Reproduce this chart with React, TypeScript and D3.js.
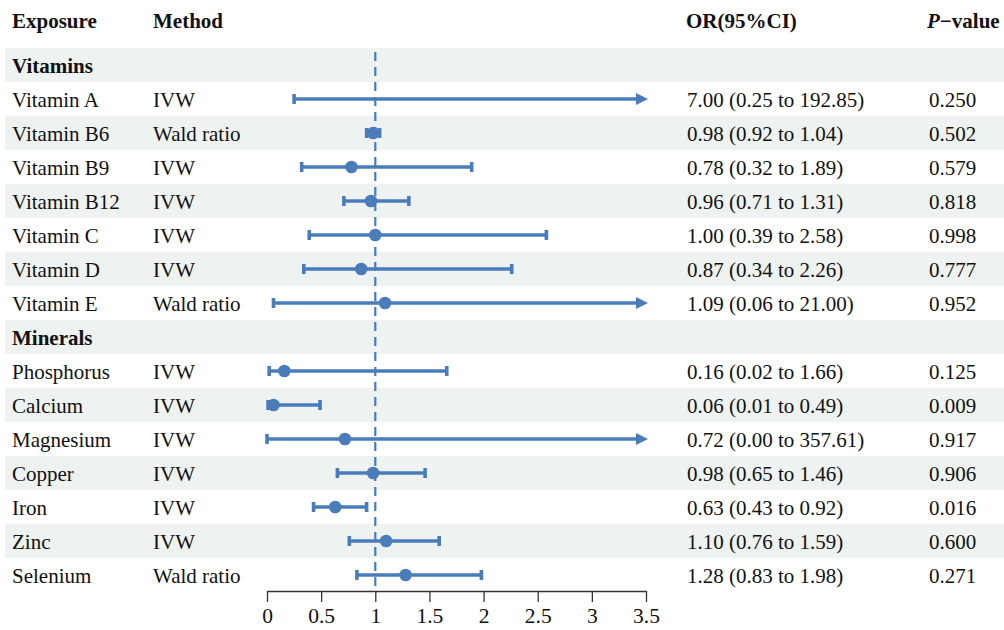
import React from "react";
import * as d3 from "d3";

const groups = ["Vitamins", "Minerals"];

const vitaminNames = ["Vitamin A", "Vitamin B6", "Vitamin B9", "Vitamin B12", "Vitamin C", "Vitamin D", "Vitamin E"];
const vitaminMethods = ["IVW", "Wald ratio", "IVW", "IVW", "IVW", "IVW", "Wald ratio"];
const vitaminOR = [7.0, 0.98, 0.78, 0.96, 1.0, 0.87, 1.09];
const vitaminLower = [0.25, 0.92, 0.32, 0.71, 0.39, 0.34, 0.06];
const vitaminUpper = [192.85, 1.04, 1.89, 1.31, 2.58, 2.26, 21.0];
const vitaminP = ["0.250", "0.502", "0.579", "0.818", "0.998", "0.777", "0.952"];

const mineralNames = ["Phosphorus", "Calcium", "Magnesium", "Copper", "Iron", "Zinc", "Selenium"];
const mineralMethods = ["IVW", "IVW", "IVW", "IVW", "IVW", "IVW", "Wald ratio"];
const mineralOR = [0.16, 0.06, 0.72, 0.98, 0.63, 1.1, 1.28];
const mineralLower = [0.02, 0.01, 0.0, 0.65, 0.43, 0.76, 0.83];
const mineralUpper = [1.66, 0.49, 357.61, 1.46, 0.92, 1.59, 1.98];
const mineralP = ["0.125", "0.009", "0.917", "0.906", "0.016", "0.600", "0.271"];

const xTicks = [0, 0.5, 1, 1.5, 2, 2.5, 3, 3.5];

type Row = {
  header: boolean;
  name: string;
  method?: string;
  or?: number;
  lo?: number;
  hi?: number;
  p?: string;
};

function buildRows(): Row[] {
  const rows: Row[] = [];
  const sets = [
    [vitaminNames, vitaminMethods, vitaminOR, vitaminLower, vitaminUpper, vitaminP],
    [mineralNames, mineralMethods, mineralOR, mineralLower, mineralUpper, mineralP],
  ] as const;
  groups.forEach((g, gi) => {
    rows.push({ header: true, name: g });
    const [names, methods, ors, los, his, ps] = sets[gi] as any;
    names.forEach((n: string, i: number) => {
      rows.push({ header: false, name: n, method: methods[i], or: ors[i], lo: los[i], hi: his[i], p: ps[i] });
    });
  });
  return rows;
}

const W = 1004;
const H = 630;
const FONT = "'Liberation Serif', 'Times New Roman', serif";
const BLUE = "#4A7CBA";
const BAND = "#EEF2F1";

function Axis({ x, y }: { x: d3.ScaleLinear<number, number>; y: number }) {
  const ref = React.useRef<SVGGElement>(null);
  React.useEffect(() => {
    if (!ref.current) return;
    const g = d3.select(ref.current);
    g.call(
      d3
        .axisBottom(x)
        .tickValues(xTicks)
        .tickFormat((d) => String(d))
        .tickSize(11)
        .tickSizeOuter(0)
        .tickPadding(6)
    );
    g.selectAll("path").attr("stroke", "#333").attr("stroke-width", 1.3);
    g.selectAll("line").attr("stroke", "#333").attr("stroke-width", 1.3);
    g.selectAll("text").attr("font-family", FONT).attr("font-size", 21.5).attr("fill", "#111");
  }, [x]);
  return <g ref={ref} transform={`translate(0,${y})`} />;
}

export default function App() {
  const rows = buildRows();
  const x = d3.scaleLinear().domain([0, 3.5]).range([267, 646]);
  const y = d3
    .scaleBand<number>()
    .domain(rows.map((_, i) => i))
    .range([48, 48 + rows.length * 34])
    .padding(0);
  const bw = y.bandwidth();
  const [xmin, xmax] = x.domain();
  const capH = 5;
  const sw = 3.6;

  return (
    <svg
      width={W}
      height={H}
      style={{ position: "absolute", left: 0, top: 0, background: "#fff" }}
      fontFamily={FONT}
    >
      {rows.map((r, i) =>
        i % 2 === 0 ? <rect key={"b" + i} x={5} y={y(i)} width={W - 5} height={bw} fill={BAND} /> : null
      )}

      {/* headers */}
      <g fontSize={21} fontWeight="bold" fill="#111">
        <text x={12} y={28}>Exposure</text>
        <text x={153} y={28}>Method</text>
        <text x={686} y={28}>OR(95%CI)</text>
        <text x={927} y={28}>
          <tspan fontStyle="italic">P</tspan>
          <tspan>−value</tspan>
        </text>
      </g>

      {/* reference line */}
      <line x1={x(1)} x2={x(1)} y1={52} y2={588} stroke={BLUE} strokeWidth={2.2} strokeDasharray="9,6" />

      {rows.map((r, i) => {
        const cy = (y(i) as number) + bw / 2;
        const ty = cy + 7.5;
        if (r.header) {
          return (
            <text key={"t" + i} x={12} y={ty} fontSize={21} fontWeight="bold" fill="#111">
              {r.name}
            </text>
          );
        }
        const lo = Math.max(r.lo!, xmin);
        const hiOver = r.hi! > xmax;
        const hi = Math.min(r.hi!, xmax);
        const x1 = x(lo);
        const x2 = hiOver ? x(hi) - 6 : x(hi);
        const ci = `${r.or!.toFixed(2)} (${r.lo!.toFixed(2)} to ${r.hi!.toFixed(2)})`;
        return (
          <g key={"r" + i}>
            <text x={12} y={ty} fontSize={21} fill="#111">{r.name}</text>
            <text x={153} y={ty} fontSize={21} fill="#111">{r.method}</text>
            <text x={687} y={ty} fontSize={21} fill="#111">{ci}</text>
            <text x={929} y={ty} fontSize={21} fill="#111">{r.p}</text>
            <line x1={x1} x2={x2} y1={cy} y2={cy} stroke={BLUE} strokeWidth={sw} />
            <line x1={x1} x2={x1} y1={cy - capH} y2={cy + capH} stroke={BLUE} strokeWidth={sw} />
            {hiOver ? (
              <path
                d={`M${x(hi) + 2},${cy} L${x(hi) - 10},${cy - 6} L${x(hi) - 10},${cy + 6} Z`}
                fill={BLUE}
              />
            ) : (
              <line x1={x2} x2={x2} y1={cy - capH} y2={cy + capH} stroke={BLUE} strokeWidth={sw} />
            )}
            {r.or! <= xmax ? <circle cx={x(r.or!)} cy={cy} r={6.3} fill={BLUE} /> : null}
          </g>
        );
      })}

      <Axis x={x} y={591} />
    </svg>
  );
}
